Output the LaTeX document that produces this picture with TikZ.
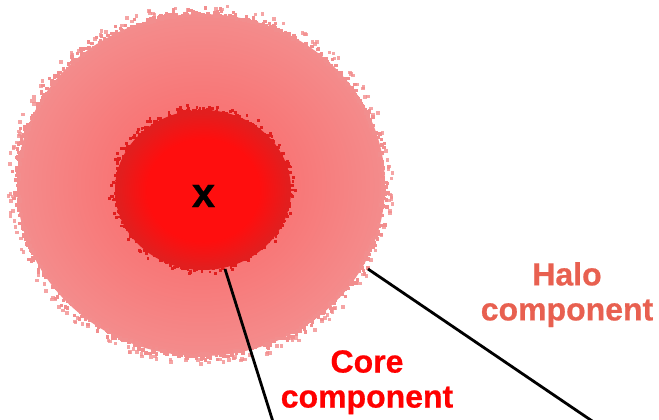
\documentclass[tikz,border=0pt]{standalone}
\usepackage{fontspec}
\usetikzlibrary{shapes.geometric}
\setmainfont{Liberation Sans}[BoldFeatures={FakeBold=0.6}]
\definecolor{halofill}{RGB}{248,118,118}
\definecolor{haloedge}{RGB}{244,140,140}
\definecolor{halodot}{RGB}{242,142,142}
\definecolor{corefill}{RGB}{255,14,14}
\definecolor{coredot}{RGB}{226,30,30}
\definecolor{halotext}{RGB}{232,96,80}
\definecolor{coretext}{RGB}{255,0,0}
\pgfdeclareradialshading{coreshade}{\pgfpoint{0bp}{0bp}}{color(0bp)=(corefill); color(16bp)=(corefill); color(24bp)=(coredot); color(50bp)=(coredot)}
\pgfdeclareradialshading{haloshade}{\pgfpoint{0bp}{0bp}}{color(0bp)=(halofill); color(12bp)=(halofill); color(25bp)=(haloedge); color(50bp)=(haloedge)}
\tikzset{
  lbl/.style={font=\bfseries\fontsize{32}{35}\selectfont, align=center, inner sep=0pt, anchor=north},
  leader/.style={line width=2.8pt, black},
}
\begin{document}
\begin{tikzpicture}[x=1pt,y=-1pt]
\useasboundingbox (0,0) rectangle (659,420);
\clip (0,0) rectangle (659,420);
\pgfmathsetseed{7}
% halo
\node[ellipse, shading=haloshade, minimum width=368pt, minimum height=342pt, inner sep=0pt, draw=none] (halo) at (201,185) {};
\foreach \i in {1,...,700}{
  \pgfmathsetmacro\ang{rnd*360}
  \pgfmathsetmacro\rr{0.955+0.05*rnd*rnd}
  \fill[halodot] ({199+190*\rr*cos(\ang)},{183+177*\rr*sin(\ang)}) rectangle ++(3.4,3.4);
}
\foreach \i in {1,...,160}{
  \pgfmathsetmacro\ang{rnd*360}
  \pgfmathsetmacro\rr{0.99+0.03*rnd}
  \fill[halodot, opacity=0.8] ({199+190*\rr*cos(\ang)},{183+177*\rr*sin(\ang)}) rectangle ++(3.6,3.6);
}
% core
\foreach \i in {1,...,900}{
  \pgfmathsetmacro\ang{rnd*360}
  \pgfmathsetmacro\rr{0.86+0.14*rnd*rnd}
  \fill[coredot] ({201+95*\rr*cos(\ang)},{188+87*\rr*sin(\ang)}) rectangle ++(2.8,2.8);
}
\node[ellipse, shading=coreshade, minimum width=176pt, minimum height=160pt, inner sep=0pt, draw=none] (core) at (203,190) {};
\node[font=\bfseries\fontsize{42}{42}\selectfont, inner sep=0pt] (x) at (203.5,196) {x};
% labels
\node[lbl, text=halotext] (halolbl) at (567,262) {Halo\\component};
\node[lbl, text=coretext] (corelbl) at (367,350) {Core\\component};
% leaders
\coordinate (coreend) at (274,425);
\coordinate (haloend) at (598,425);
\coordinate (corestart) at (225,269);
\coordinate (halostart) at (368,269);
\draw[leader] (corestart) -- (coreend);
\draw[leader] (halostart) -- (haloend);
\end{tikzpicture}
\end{document}
